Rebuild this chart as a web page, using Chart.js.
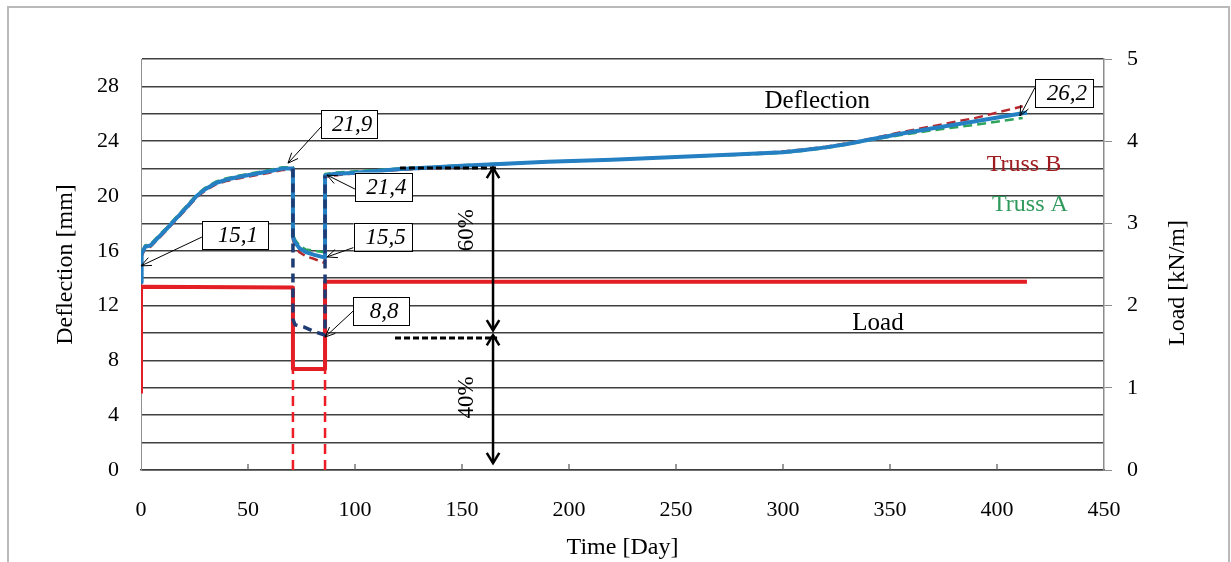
<!DOCTYPE html>
<html>
<head>
<meta charset="utf-8">
<style>
  html, body { margin: 0; padding: 0; background: #fff; }
  canvas { display: block; }
</style>
</head>
<body>
<canvas id="creepChart" width="1231" height="562"></canvas>
<script src="https://cdn.jsdelivr.net/npm/chart.js@4.4.1/dist/chart.umd.min.js"></script>
<script>
// deflection of the mean curve (mm) against time (days)
const avgDays = [0, 0.3, 2, 4.5, 7, 12, 17, 22, 26, 30, 35, 40, 46, 53, 60, 66, 71, 71, 72, 74, 77, 81, 86, 86, 90, 100, 120, 150, 190, 220, 250, 280, 300, 310, 320, 330, 340, 355, 370, 390, 414];
const avgMm   = [13.7, 15.8, 16.3, 16.4, 16.8, 17.6, 18.45, 19.3, 20.0, 20.5, 20.95, 21.2, 21.4, 21.6, 21.8, 22.0, 22.0, 17.0, 16.6, 16.2, 15.9, 15.7, 15.5, 21.5, 21.6, 21.7, 21.95, 22.2, 22.5, 22.65, 22.85, 23.05, 23.2, 23.35, 23.55, 23.8, 24.1, 24.55, 24.95, 25.45, 26.1];

// truss A and truss B
const trussDays = [0, 0.3, 2, 4.5, 7, 12, 17, 22, 26, 30, 35, 40, 46, 53, 60, 66, 71, 71, 72, 74, 77, 81, 86, 86, 90, 100, 120, 150, 190, 220, 250, 280, 300, 310, 320, 330, 340, 355, 370, 390, 412];
const trussAMm  = [13.9, 15.9, 16.4, 16.5, 16.9, 17.7, 18.55, 19.4, 20.1, 20.6, 21.05, 21.3, 21.5, 21.7, 21.9, 22.1, 22.1, 17.2, 16.8, 16.4, 16.1, 16.0, 15.9, 21.6, 21.7, 21.8, 22.0, 22.25, 22.5, 22.65, 22.85, 23.0, 23.15, 23.3, 23.5, 23.75, 24.05, 24.45, 24.8, 25.2, 25.7];
const trussBMm  = [13.5, 15.6, 16.2, 16.3, 16.7, 17.5, 18.35, 19.2, 19.9, 20.4, 20.85, 21.1, 21.3, 21.5, 21.7, 21.9, 21.9, 16.8, 16.3, 15.9, 15.6, 15.4, 15.1, 21.4, 21.5, 21.65, 21.9, 22.15, 22.5, 22.65, 22.85, 23.05, 23.25, 23.4, 23.6, 23.85, 24.15, 24.65, 25.1, 25.7, 26.55];

// instantaneous (elastic) response during unloading
const elasticDays = [71, 71, 72, 76, 81, 86, 86];
const elasticMm   = [22.0, 11.0, 10.6, 10.45, 10.1, 9.85, 21.5];

// load (kN/m), right axis
const loadDays = [0, 0, 71, 71, 86, 86, 414];
const loadKn   = [0.93, 2.23, 2.22, 1.23, 1.23, 2.29, 2.29];
const unloadDays = [71, 71, 78, 86, 86];
const unloadKn   = [0, 1.23, null, 0, 1.23];

const xTicks = [0, 50, 100, 150, 200, 250, 300, 350, 400, 450];

// annotations, in data units
const callouts = [
  { label: '15,1', tipDay: 0,     tipMm: 14.9,  boxDay: 43.9,  boxMm: 17.15, w: 66, dy: 2 },
  { label: '21,9', tipDay: 68.7,  tipMm: 22.4,  boxDay: 97.2,  boxMm: 25.26, w: 56, dy: 3 },
  { label: '21,4', tipDay: 86.9,  tipMm: 21.53, boxDay: 113.3, boxMm: 20.69, w: 57, dy: 2.5 },
  { label: '15,5', tipDay: 86.9,  tipMm: 15.55, boxDay: 112.9, boxMm: 17.04, w: 58, dy: 11 },
  { label: '8,8',  tipDay: 86.0,  tipMm: 9.7,   boxDay: 112.2, boxMm: 11.6,  w: 56, dy: 0 },
  { label: '26,2', tipDay: 410.7, tipMm: 25.84, boxDay: 431.3, boxMm: 27.55, w: 58, dy: -5 }
];
const notes = [
  { text: 'Deflection', day: 316, mm: 26.9, color: '#000', size: 25 },
  { text: 'Load', day: 344.4, mm: 10.7, color: '#000', size: 25 },
  { text: 'Truss B', day: 412.6, mm: 22.3, color: '#9e1c20', size: 24 },
  { text: 'Truss A', day: 415.4, mm: 19.4, color: '#2f9a5c', size: 24 }
];
const levelLines = [
  { mm: 22.05, from: 121, to: 166.4 },
  { mm: 9.64, from: 118.7, to: 166.4 }
];
const spans = [
  { day: 164.5, top: 22.05, bottom: 10.2, text: '60%', textDay: 152.3, textMm: 17.5 },
  { day: 164.5, top: 9.85, bottom: 0.5, text: '40%', textDay: 152.3, textMm: 5.3 }
];

const serif = '"Liberation Serif", "Times New Roman", serif';
const toPoints = (xs, ys) => xs.map((x, i) => ({ x: x, y: ys[i] }));

function openHead(ctx, x1, y1, x2, y2, len, ang) {
  const a = Math.atan2(y2 - y1, x2 - x1);
  ctx.beginPath();
  ctx.moveTo(x2 - len * Math.cos(a - ang), y2 - len * Math.sin(a - ang));
  ctx.lineTo(x2, y2);
  ctx.lineTo(x2 - len * Math.cos(a + ang), y2 - len * Math.sin(a + ang));
  ctx.stroke();
}

const overlay = {
  id: 'overlay',
  beforeDraw(chart) {
    const ctx = chart.ctx;
    ctx.save();
    ctx.strokeStyle = '#b9b9b9';
    ctx.lineWidth = 2;
    ctx.strokeRect(8, 7, 1221, 600);
    ctx.restore();
  },
  afterDatasetsDraw(chart) {
    const ctx = chart.ctx;
    const xs = chart.scales.x, ys = chart.scales.y;
    const px = d => xs.getPixelForValue(d);
    const py = v => ys.getPixelForValue(v);
    ctx.save();

    // inward ticks on the time axis
    ctx.strokeStyle = '#555';
    ctx.lineWidth = 1.2;
    xTicks.slice(1, -1).forEach(t => {
      ctx.beginPath();
      ctx.moveTo(px(t), ys.bottom);
      ctx.lineTo(px(t), ys.bottom - 6);
      ctx.stroke();
    });

    // dashed level lines
    ctx.strokeStyle = '#000';
    ctx.lineWidth = 3;
    ctx.setLineDash([6, 3]);
    levelLines.forEach(l => {
      ctx.beginPath();
      ctx.moveTo(px(l.from), py(l.mm));
      ctx.lineTo(px(l.to), py(l.mm));
      ctx.stroke();
    });
    ctx.setLineDash([]);

    // double arrows
    ctx.lineWidth = 2.5;
    ctx.lineJoin = 'miter';
    spans.forEach(s => {
      const x = px(s.day), y1 = py(s.top), y2 = py(s.bottom);
      ctx.beginPath();
      ctx.moveTo(x, y1);
      ctx.lineTo(x, y2);
      ctx.stroke();
      openHead(ctx, x, y2, x, y1, 12, 0.55);
      openHead(ctx, x, y1, x, y2, 12, 0.55);
      ctx.save();
      ctx.translate(px(s.textDay), py(s.textMm));
      ctx.rotate(-Math.PI / 2);
      ctx.font = '23px ' + serif;
      ctx.fillStyle = '#000';
      ctx.textAlign = 'center';
      ctx.textBaseline = 'middle';
      ctx.fillText(s.text, 0, 0);
      ctx.restore();
    });

    // plain text notes
    ctx.textAlign = 'center';
    ctx.textBaseline = 'middle';
    notes.forEach(n => {
      ctx.font = n.size + 'px ' + serif;
      ctx.fillStyle = n.color;
      ctx.fillText(n.text, px(n.day), py(n.mm));
    });

    // value callouts
    ctx.lineWidth = 1;
    callouts.forEach(c => {
      const cx = px(c.boxDay), cy = py(c.boxMm);
      const left = cx - c.w / 2, top = cy - 14;
      const sx = left, sy = cy + c.dy;
      const tx = px(c.tipDay), ty = py(c.tipMm);
      ctx.strokeStyle = '#000';
      ctx.beginPath();
      ctx.moveTo(sx, sy);
      ctx.lineTo(tx, ty);
      ctx.stroke();
      openHead(ctx, sx, sy, tx, ty, 11, 0.4);
      ctx.fillStyle = '#fff';
      ctx.fillRect(left, top, c.w, 28);
      ctx.strokeRect(Math.round(left) + 0.5, Math.round(top) + 0.5, c.w, 28);
      ctx.fillStyle = '#000';
      ctx.font = 'italic 23px ' + serif;
      ctx.fillText(c.label, cx + 3, cy + 1);
    });

    // right axis title (reads bottom to top)
    ctx.save();
    ctx.translate(1178, 283);
    ctx.rotate(-Math.PI / 2);
    ctx.font = '24px ' + serif;
    ctx.fillStyle = '#000';
    ctx.fillText('Load [kN/m]', 0, 0);
    ctx.restore();

    ctx.restore();
  }
};

const ctx = document.getElementById('creepChart').getContext('2d');
const creepChart = new Chart(ctx, {
  type: 'line',
  data: {
    datasets: [
      {
        label: 'Elastic',
        data: toPoints(elasticDays, elasticMm),
        borderColor: '#1f3b73',
        borderWidth: 3.5,
        borderDash: [9, 6],
        yAxisID: 'y',
        order: 1
      },
      {
        label: 'Mean',
        data: toPoints(avgDays, avgMm),
        borderColor: '#2580c3',
        borderWidth: 4,
        yAxisID: 'y',
        order: 2
      },
      {
        label: 'Truss A',
        data: toPoints(trussDays, trussAMm),
        borderColor: '#2ea35b',
        borderWidth: 2.5,
        borderDash: [9, 5],
        yAxisID: 'y',
        order: 3
      },
      {
        label: 'Truss B',
        data: toPoints(trussDays, trussBMm),
        borderColor: '#b5282e',
        borderWidth: 2.5,
        borderDash: [9, 5],
        yAxisID: 'y',
        order: 4
      },
      {
        label: 'Load',
        data: toPoints(loadDays, loadKn),
        borderColor: '#e31e24',
        borderWidth: 4,
        yAxisID: 'y2',
        order: 5
      },
      {
        label: 'Unloading',
        data: toPoints(unloadDays, unloadKn),
        borderColor: '#ee1c25',
        borderWidth: 2.5,
        borderDash: [10, 6],
        yAxisID: 'y2',
        order: 6
      }
    ]
  },
  options: {
    responsive: false,
    animation: false,
    events: [],
    elements: {
      point: { radius: 0 },
      line: { tension: 0, fill: false, borderJoinStyle: 'round' }
    },
    layout: { padding: { top: 59, left: 0, right: 0, bottom: 0 } },
    plugins: {
      legend: { display: false },
      tooltip: { enabled: false }
    },
    scales: {
      x: {
        type: 'linear',
        min: 0,
        max: 450,
        afterFit: s => { s.height = 92; },
        afterBuildTicks: s => { s.ticks = xTicks.map(v => ({ value: v })); },
        ticks: { font: { family: serif, size: 22 }, color: '#000', padding: 27, maxRotation: 0 },
        grid: { display: false, drawTicks: false },
        border: { display: true, color: '#404040', width: 1.5 },
        title: {
          display: true,
          text: 'Time [Day]',
          font: { family: serif, size: 24 },
          color: '#000',
          padding: { top: 0, bottom: 0 }
        }
      },
      y: {
        position: 'left',
        min: 0,
        max: 30,
        afterFit: s => { s.width = 141; },
        ticks: {
          stepSize: 2,
          autoSkip: false,
          font: { family: serif, size: 22 },
          color: '#000',
          padding: 22,
          callback: v => (v % 4 === 0 && v < 30) ? v : ''
        },
        grid: { color: '#404040', lineWidth: 1.5, drawTicks: false },
        border: { color: '#909090', width: 1 },
        title: {
          display: true,
          text: 'Deflection [mm]',
          font: { family: serif, size: 24 },
          color: '#000',
          padding: { top: 51, bottom: 0 }
        }
      },
      y2: {
        position: 'right',
        min: 0,
        max: 5,
        afterFit: s => { s.width = 127; },
        ticks: { stepSize: 1, font: { family: serif, size: 22 }, color: '#000', padding: 15 },
        grid: { drawOnChartArea: false, drawTicks: true, tickLength: 8, color: '#8c8c8c' },
        border: { color: '#8c8c8c', width: 1.5 }
      }
    }
  },
  plugins: [overlay]
});
</script>
</body>
</html>
